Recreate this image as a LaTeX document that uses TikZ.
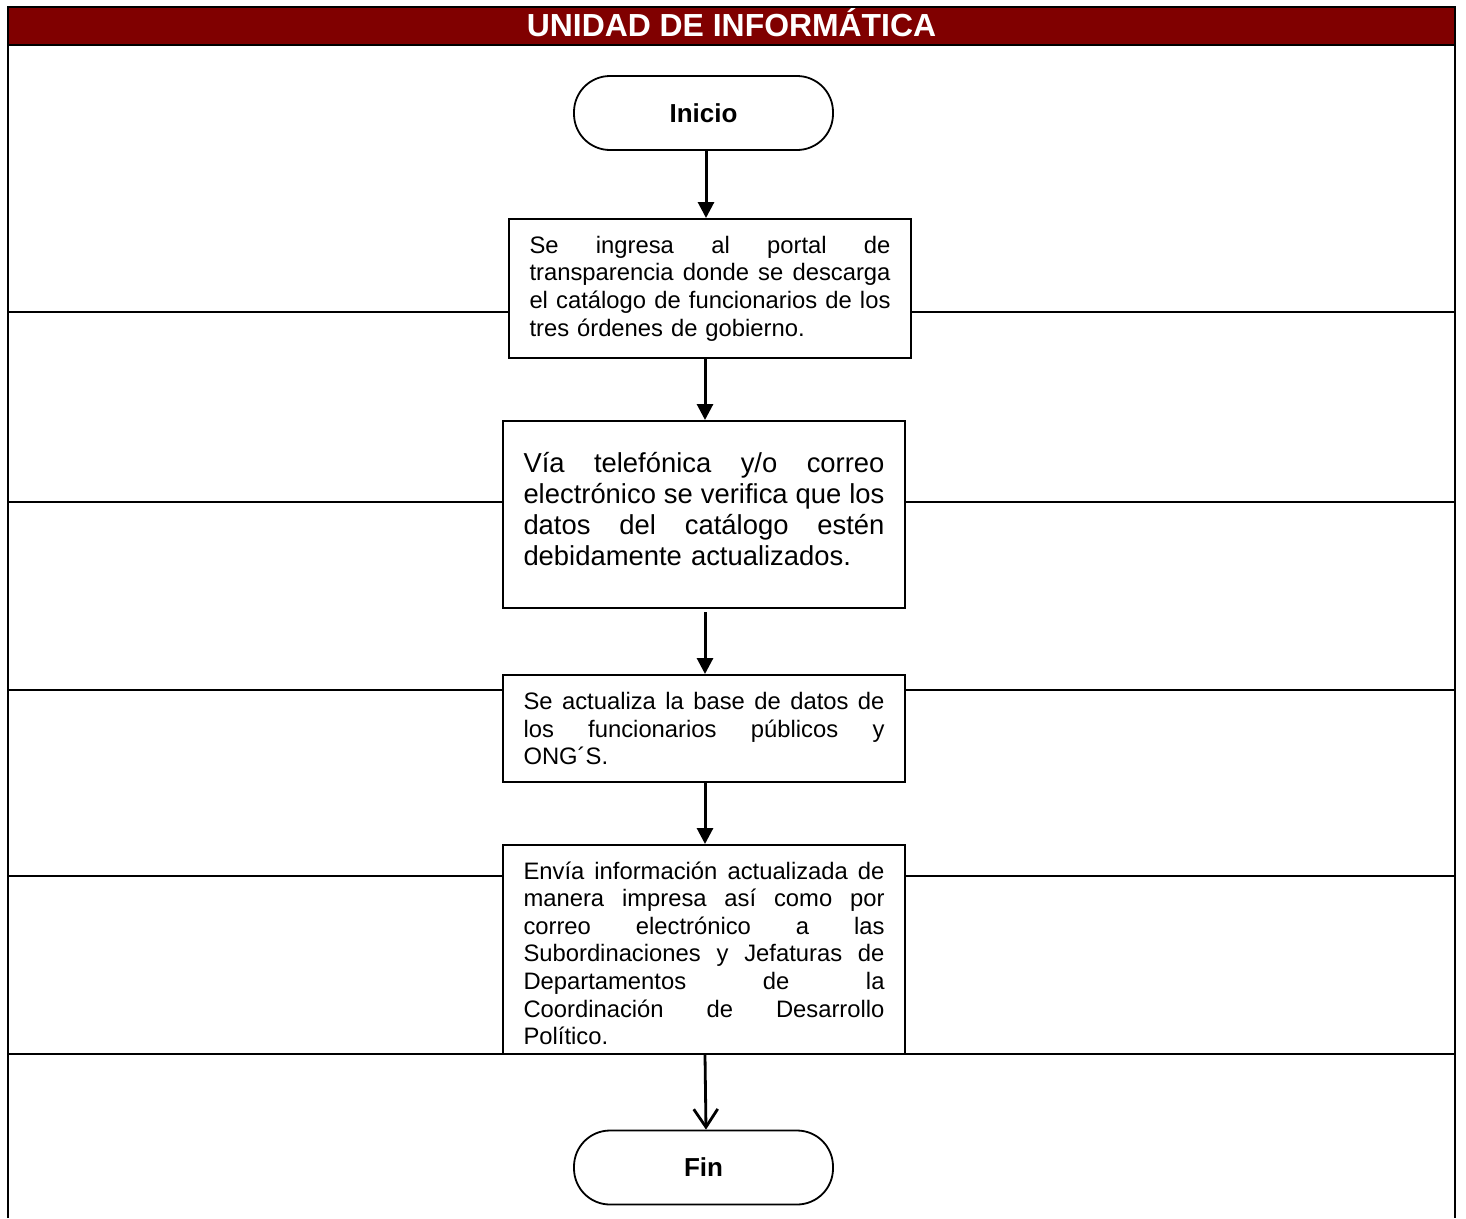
\documentclass[tikz,border=0pt]{standalone}
\usepackage{fontspec}
\setmainfont{Liberation Sans}
\usetikzlibrary{arrows.meta}
\definecolor{titlered}{HTML}{800000}
\newcommand\jline[1]{{\spaceskip=0pt\xspaceskip=0pt\makebox[\hsize][s]{#1}}\\}
\begin{document}
\begin{tikzpicture}[x=1pt,y=-1pt,
  frame/.style={line width=2.6pt},
  sep/.style={line width=2pt},
  term/.style={draw, line width=1.8pt, fill=white, rounded corners=36pt,
    minimum width=259pt, minimum height=74pt, inner sep=0pt,
    font=\fontsize{26}{30}\selectfont\bfseries},
  proc/.style={draw, line width=2pt, fill=white, minimum width=402pt,
    inner xsep=20.5pt, inner ysep=0pt, text width=361pt, align=left},
  body/.style={font=\fontsize{23.8}{27.6}\selectfont},
  bigbody/.style={font=\fontsize{27.4}{31}\selectfont},
  flow/.style={line width=3pt, -{Triangle[length=16pt,width=16pt]}},
  openflow/.style={line width=2.8pt, -{Straight Barb[length=18pt,width=24pt]}}]
\useasboundingbox (0,0) rectangle (1466,1218);
\fill[white] (0,0) rectangle (1466,1218);
% title bar
\fill[titlered] (8,7) rectangle (1455,45);
\node[text=white, anchor=base, inner sep=0pt, font=\fontsize{31.9}{36}\selectfont\bfseries] (title) at (731.5,36.7) {UNIDAD DE INFORMÁTICA};
% lane separators
\foreach \yy in {312,502,690,876,1054} \draw[sep] (8,\yy) -- (1455,\yy);
% frame
\draw[frame] (8,1218) -- (8,7) -- (1455,7) -- (1455,1218);
\draw[frame] (8,45) -- (1455,45);
% nodes
\node[term] (inicio) at (703.5,113) {Inicio};
\node[proc, body, minimum height=139pt] (b1) at (710,288.5) {%
\jline{Se ingresa al portal de}%
\jline{transparencia donde se descarga}%
\jline{el catálogo de funcionarios de los}%
tres órdenes de gobierno.};
\node[proc, bigbody, minimum height=187pt] (b2) at (704,514.5) {%
\jline{Vía telefónica y/o correo}%
\jline{electrónico se verifica que los}%
\jline{datos del catálogo estén}%
debidamente actualizados.\rule[-12pt]{0pt}{0pt}};
\node[proc, body, minimum height=107pt] (b3) at (704,728.5) {%
\jline{Se actualiza la base de datos de}%
\jline{los funcionarios públicos y}%
ONG´S.};
\node[proc, body, minimum height=209pt] (b4) at (704,949.5) {%
\jline{\rule{0pt}{25pt}Envía información actualizada de}%
\jline{manera impresa así como por}%
\jline{correo electrónico a las}%
\jline{Subordinaciones y Jefaturas de}%
\jline{Departamentos de la}%
\jline{Coordinación de Desarrollo}%
Político.};
\node[term] (fin) at (703.5,1167.5) {Fin};
% connectors
\draw[flow] ([xshift=2.5pt]inicio.south) -- ([xshift=-4pt]b1.north);
\draw[flow] ([xshift=-5pt]b1.south) -- ([xshift=1pt]b2.north);
\draw[flow] ([xshift=1pt,yshift=-3pt]b2.south) -- ([xshift=1pt]b3.north);
\draw[flow] ([xshift=1pt]b3.south) -- ([xshift=1pt]b4.north);
\draw[openflow] ([xshift=1pt]b4.south) -- ([xshift=2.5pt]fin.north);
\end{tikzpicture}
\end{document}
